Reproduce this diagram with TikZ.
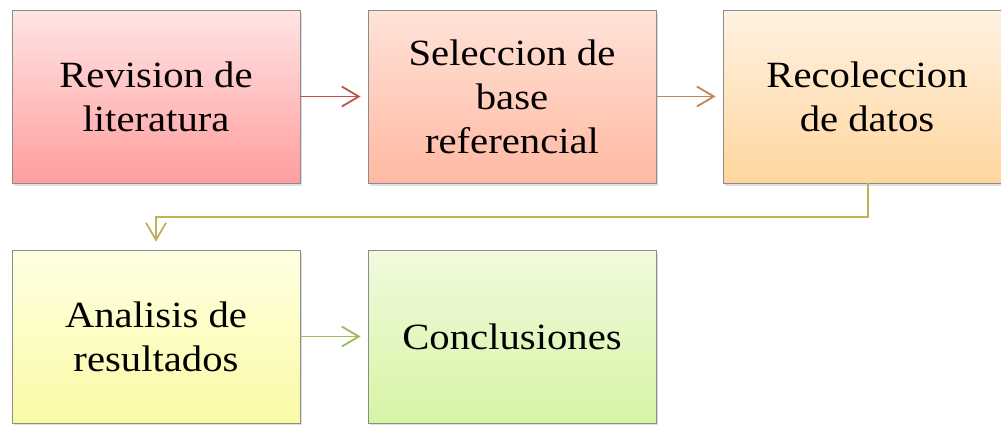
\documentclass[tikz,border=0pt]{standalone}
\usepackage{fontspec}
\setmainfont[FakeStretch=1.1]{Liberation Serif}
\usetikzlibrary{arrows.meta,shadows}
\definecolor{aRed}{RGB}{192,80,77}
\definecolor{aOrange}{RGB}{198,132,80}
\definecolor{aOlive}{RGB}{190,178,90}
\definecolor{aGreen}{RGB}{155,187,89}
\definecolor{t1}{RGB}{255,228,228}\definecolor{b1}{RGB}{255,158,158}
\definecolor{t2}{RGB}{255,226,216}\definecolor{b2}{RGB}{255,185,162}
\definecolor{t3}{RGB}{255,242,226}\definecolor{b3}{RGB}{255,214,158}
\definecolor{t4}{RGB}{255,255,226}\definecolor{b4}{RGB}{250,250,165}
\definecolor{t5}{RGB}{240,250,222}\definecolor{b5}{RGB}{214,245,165}
\tikzset{
  stepbox/.style={draw=black!45, line width=0.8pt, minimum width=288pt, minimum height=173pt,
    align=center, inner sep=0pt, font=\fontsize{37}{44}\selectfont,
    drop shadow={shadow xshift=1.5pt, shadow yshift=-2.5pt, opacity=0.25}},
  conn/.style={line width=1.8pt, -{Straight Barb[length=17pt,width=20pt,line width=1.8pt]}},
}
\begin{document}
\begin{tikzpicture}[x=1pt,y=-1pt]
\useasboundingbox (0,0) rectangle (1001,424);
\clip (0,0) rectangle (1001,424);
\node[stepbox, top color=t1, bottom color=b1] (n1) at (156,96.5) {Revision de\\literatura};
\node[stepbox, top color=t2, bottom color=b2] (n2) at (512,96.5) {Seleccion de\\base\\referencial};
\node[stepbox, top color=t3, bottom color=b3] (n3) at (867,96.5) {Recoleccion\\de datos};
\node[stepbox, top color=t4, bottom color=b4] (n4) at (156,336.5) {Analisis de\\resultados};
\node[stepbox, top color=t5, bottom color=b5] (n5) at (512,336.5) {Conclusiones};
\coordinate (c1) at (868,216.7);
\coordinate (c2) at (156,216.7);
\draw[conn, aRed, shorten >=7pt] (n1.east) -- (n2.west);
\draw[conn, aOrange, shorten >=7pt] (n2.east) -- (n3.west);
\draw[conn, aOlive, shorten >=8pt] (n3.south -| c1) -- (c1) -- (c2) -- (n4.north);
\draw[conn, aGreen, shorten >=7pt] (n4.east) -- (n5.west);
\end{tikzpicture}
\end{document}
